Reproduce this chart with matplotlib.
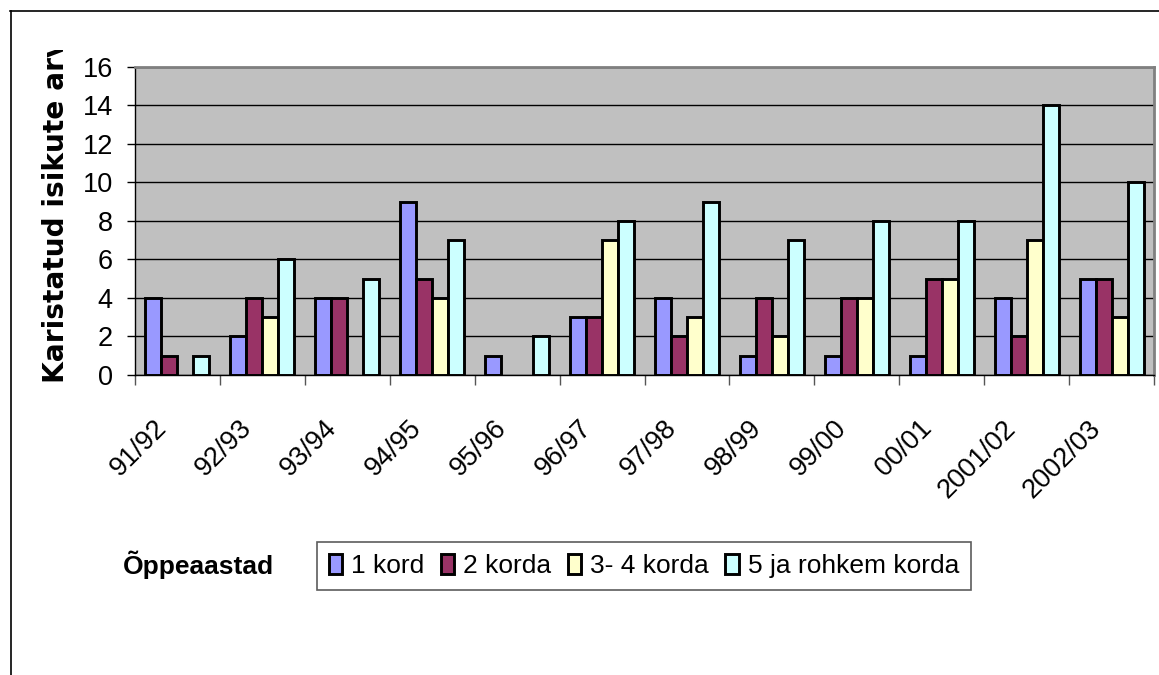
import numpy as np
import matplotlib
matplotlib.use("Agg")
import matplotlib.pyplot as plt
from matplotlib.lines import Line2D
from matplotlib.transforms import Bbox, TransformedBbox, ScaledTranslation

plt.rcParams['font.family'] = ['Liberation Sans', 'DejaVu Sans']

years = ['91/92', '92/93', '93/94', '94/95', '95/96', '96/97',
         '97/98', '98/99', '99/00', '00/01', '2001/02', '2002/03']
series_names = ['1 kord', '2 korda', '3- 4 korda', '5 ja rohkem korda']
kord1 = [4, 2, 4, 9, 1, 3, 4, 1, 1, 1, 4, 5]
korda2 = [1, 4, 4, 5, 0, 3, 2, 4, 4, 5, 2, 5]
korda34 = [0, 3, 0, 4, 0, 7, 3, 2, 4, 5, 7, 3]
korda5 = [1, 6, 5, 7, 2, 8, 9, 7, 8, 8, 14, 10]
colors = ['#9999FF', '#993366', '#FFFFCC', '#CCFFFF']

W, H = 1159, 675
fig = plt.figure(figsize=(W / 100, H / 100), dpi=100)
ax = fig.add_axes([135 / W, 1 - 375 / H, (1154 - 135) / W, (375 - 66.7) / H])
ax.set_facecolor('#C0C0C0')

bw = 16 / 85
x = np.arange(len(years)) + 0.5
for j, vals in enumerate([kord1, korda2, korda34, korda5]):
    vals = np.array(vals)
    keep = vals > 0
    ax.bar(x[keep] + (j - 1.5) * bw, vals[keep], width=bw, color=colors[j],
           edgecolor='black', linewidth=2.1, zorder=3)
    # legend handle
    ax.bar([np.nan], [np.nan], color=colors[j], edgecolor='black', linewidth=2.1,
           label=series_names[j])

ax.set_xlim(0, len(years))
ax.set_ylim(0, 16)
ax.set_yticks(range(0, 17, 2))
ax.grid(axis='y', color='black', linewidth=1, zorder=1)
ax.set_axisbelow(True)
ax.tick_params(axis='y', direction='out', length=6, width=1, pad=10, labelsize=19.5)

ax.set_xticks(np.arange(len(years) + 1))
ax.set_xticklabels([])
ax.tick_params(axis='x', which='major', direction='out', length=7, width=1, color='#555555')
ax.set_xticks(x, minor=True)
ax.set_xticklabels(years, minor=True, rotation=45, ha='right', va='top', fontsize=19.5)
ax.tick_params(axis='x', which='minor', length=0, pad=29)
shift = ScaledTranslation(-5 / 100, 0, fig.dpi_scale_trans)
for lab in ax.get_xticklabels(minor=True):
    lab.set_transform(lab.get_transform() + shift)

for s in ['top', 'right']:
    ax.spines[s].set_color('#808080')
    ax.spines[s].set_linewidth(2)
for s in ['left', 'bottom']:
    ax.spines[s].set_color('black')
    ax.spines[s].set_linewidth(1)

# y label, cut off at the top like the original
yl = fig.text(56 / W, 1 - 383 / H, 'Karistatud isikute arv', rotation=90,
              ha='center', va='bottom', fontsize=20.2, fontweight='bold',
              family=['DejaVu Sans'])
yl.set_clip_box(TransformedBbox(Bbox.from_extents(0, 0, 1, 1 - 50 / H), fig.transFigure))
yl.set_clip_on(True)

fig.text(123 / W, 1 - 565 / H, 'Õppeaastad', ha='left', va='center',
         fontsize=19, fontweight='bold')

leg = fig.legend(loc='upper left', bbox_to_anchor=(317 / W, 1 - 542 / H), ncol=4,
                 fontsize=19, frameon=True, fancybox=False, handlelength=0.5,
                 handleheight=0.78, handletextpad=0.35, columnspacing=0.62,
                 borderpad=0.45, borderaxespad=0)
leg.get_frame().set_edgecolor('#333333')
leg.get_frame().set_linewidth(1.2)

fig.add_artist(Line2D([10 / W, 1], [1 - 10.5 / H, 1 - 10.5 / H], color='black', lw=1.2))
fig.add_artist(Line2D([10.5 / W, 10.5 / W], [0, 1 - 10.5 / H], color='black', lw=1.2))

fig.savefig('out.png', dpi=100)
